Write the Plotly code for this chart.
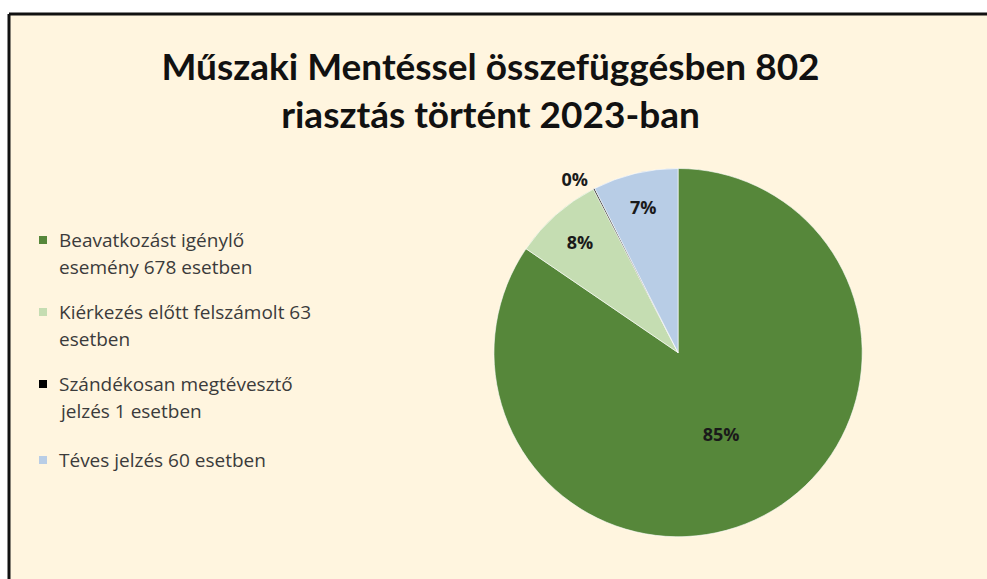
import plotly.graph_objects as go

title_text = "Műszaki Mentéssel összefüggésben 802<br>riasztás történt 2023-ban"
legend_labels = [
    "Beavatkozást igénylő<br>esemény 678 esetben",
    "Kiérkezés előtt felszámolt 63<br>esetben",
    "Szándékosan megtévesztő<br>jelzés 1 esetben",
    "Téves jelzés 60 esetben",
]
values = [678, 63, 1, 60]
colors = ["#56873A", "#C5DDB2", "#000000", "#B8CDE6"]
text_positions = ["inside", "inside", "outside", "inside"]

W, H = 987, 579
fig = go.Figure()

fig.add_trace(go.Pie(
    labels=legend_labels,
    values=values,
    sort=False,
    direction="clockwise",
    rotation=0,
    marker=dict(colors=colors, line=dict(color="rgba(255,255,255,0.6)", width=1)),
    texttemplate="%{percent:.0%}",
    textposition=text_positions,
    insidetextorientation="horizontal",
    textfont=dict(family="Open Sans", size=18, color="#1a1a1a", weight="bold"),
    outsidetextfont=dict(family="Open Sans", size=18, color="#1a1a1a", weight="bold"),
    showlegend=False,
    domain=dict(x=[0.4995, 0.8745], y=[0.073, 0.709]),
    hoverinfo="label+value+percent",
))

# Background panel
fig.add_shape(type="rect", xref="paper", yref="paper",
              x0=9 / W, x1=1.05, y0=-0.05, y1=1 - 14 / H,
              fillcolor="#FFF5DF", line=dict(width=0), layer="below")
# Border lines (top and left)
fig.add_shape(type="line", xref="paper", yref="paper",
              x0=9 / W, x1=1.05, y0=1 - 14 / H, y1=1 - 14 / H,
              line=dict(color="#111111", width=3), layer="below")
fig.add_shape(type="line", xref="paper", yref="paper",
              x0=9 / W, x1=9 / W, y0=-0.05, y1=1 - 14 / H,
              line=dict(color="#111111", width=3), layer="below")

# Legend drawn as annotations + square markers
item_tops = [240, 312, 384, 460]
for lab, col, yt in zip(legend_labels, colors, item_tops):
    lines = lab.split("<br>")
    for j, line in enumerate(lines):
        y = yt + j * 27
        fig.add_annotation(x=57 / W, y=1 - y / H, xref="paper", yref="paper",
                           text=line, showarrow=False, xanchor="left", yanchor="middle",
                           font=dict(family="Open Sans", size=19, color="#3b3b3b"))
    fig.add_shape(type="rect", xref="paper", yref="paper",
                  x0=39 / W, x1=47 / W, y0=1 - (yt + 4) / H, y1=1 - (yt - 4) / H,
                  fillcolor=col, line=dict(width=0))

fig.update_layout(
    width=W, height=H,
    margin=dict(l=0, r=0, t=0, b=0),
    paper_bgcolor="white",
    plot_bgcolor="white",
    title=dict(text=title_text, x=0.497, xanchor="center", y=1 - 80 / H, yanchor="middle",
               font=dict(family="Lato", size=37, color="#111111", weight="bold")),
)

fig.write_html("out.html", config={"displayModeBar": False},
               post_script="document.body.style.margin='0px';")
